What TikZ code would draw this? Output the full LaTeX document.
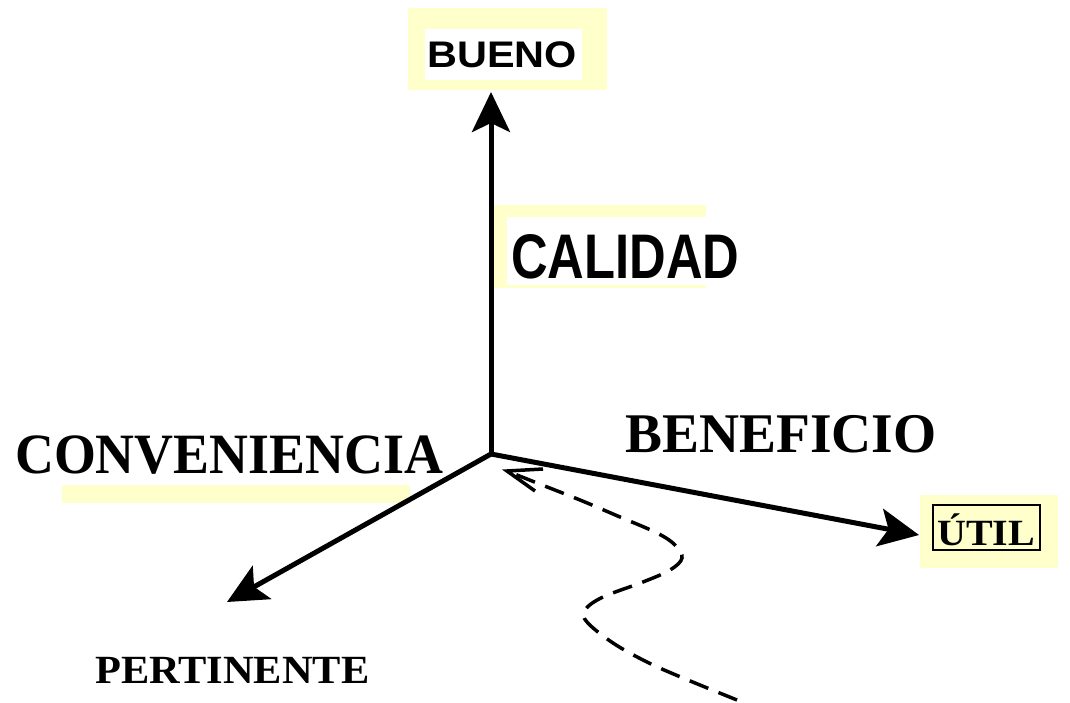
\documentclass[tikz,border=0pt]{standalone}
\usepackage{fontspec}
\setmainfont{Liberation Serif}
\newfontfamily\arialfont{Liberation Sans}
\usetikzlibrary{arrows.meta}
\definecolor{paleyellow}{RGB}{255,255,204}
\begin{document}
\begin{tikzpicture}[x=1pt,y=-1pt,
  lbl/.style={inner sep=0pt, anchor=base west},
  axis/.style={line width=5pt, -{Stealth[length=40pt,width=38pt,inset=9pt]}},
  route/.style={line width=3.5pt, dash pattern=on 20pt off 11pt},
  hl/.style={fill=paleyellow, draw=none},
  wh/.style={fill=white, draw=none}]
\useasboundingbox (0,0) rectangle (1070,703);
% highlight backgrounds
\fill[paleyellow] (408,8) rectangle (607,90);
\fill[white] (425,29) rectangle (582,80);
\fill[paleyellow] (493,205) rectangle (706,288);
\fill[white] (507,217) rectangle (706,285);
\fill[paleyellow] (62,485) rectangle (410,503);
\fill[paleyellow] (920,495) rectangle (1058,568);
% labels
\node[lbl] (bueno) at (427,68) {\arialfont\bfseries\fontsize{37}{40}\selectfont\scalebox{1.12}[1]{BUENO}};
\node[lbl] (calidad) at (511,278) {\arialfont\bfseries\fontsize{63}{70}\selectfont\scalebox{0.805}[1]{CALIDAD}};
\node[lbl] (conv) at (15,473) {\bfseries\fontsize{57}{62}\selectfont\scalebox{0.945}[1]{CONVENIENCIA}};
\node[lbl] (benef) at (625,452) {\bfseries\fontsize{56}{62}\selectfont\scalebox{0.99}[1]{BENEFICIO}};
\node[lbl] (pert) at (95,683) {\bfseries\fontsize{40}{44}\selectfont\scalebox{1.06}[1]{PERTINENTE}};
\node[lbl] (util) at (937,545) {\bfseries\fontsize{37}{40}\selectfont\scalebox{1.08}[1]{ÚTIL}};
\draw[line width=1.5pt] (933,505) rectangle (1040,550);
% axes
\coordinate (O) at (491,454);
\coordinate (tU) at (491,92);
\coordinate (tL) at (227,602);
\coordinate (tR) at (919,535);
\draw[axis] (O) -- (tU);
\draw[axis] (O) -- (tL);
\draw[axis] (O) -- (tR);
% dashed path
\coordinate (tip) at (507,471);
\draw[route] plot[smooth, tension=0.6] coordinates {(737,700) (683,678) (647,662) (613,643) (587,622) (585,610) (603,597) (643,582) (670,570) (682,558) (675,545) (657,533) (620,517) (580,500) (537,483) (tip)};
\draw[line width=3.5pt, line join=miter] (543,469) -- (tip) -- (535,491);
\end{tikzpicture}
\end{document}
